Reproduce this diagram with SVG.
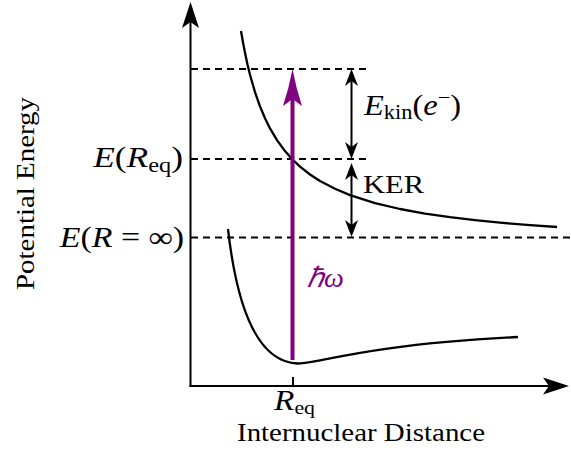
<svg xmlns="http://www.w3.org/2000/svg" width="571" height="450" viewBox="0 0 571 450">
<style>
.ax{stroke:#000;stroke-width:2;fill:none}
.dash{stroke:#000;stroke-width:1.8;stroke-dasharray:7 5;fill:none}
.curve{stroke:#000;stroke-width:2.3;fill:none;stroke-linejoin:round;stroke-linecap:butt}
.dbl{stroke:#000;stroke-width:2;fill:none}
.t{font-family:"Liberation Serif","Times New Roman",serif;font-size:26px;fill:#000}
.m{font-family:"Liberation Serif","Times New Roman",serif;font-size:29px;fill:#000}
.i{font-style:italic}
.s{font-size:20px}
</style>
<defs>
<marker id="axh" markerUnits="userSpaceOnUse" orient="auto" overflow="visible" refX="0" refY="0" markerWidth="1" markerHeight="1">
<path d="M6,0 L-20,-8.5 L-14,0 L-20,8.5 Z" fill="#000"/>
</marker>
<marker id="dh" markerUnits="userSpaceOnUse" orient="auto-start-reverse" overflow="visible" refX="0" refY="0" markerWidth="1" markerHeight="1">
<path d="M8,0 L-9,-6.5 L-4,0 L-9,6.5 Z" fill="#000"/>
</marker>
</defs>

<g id="axes">
<line class="ax" x1="190.5" y1="387" x2="190.5" y2="8" marker-end="url(#axh)"/>
<line class="ax" x1="189.5" y1="386" x2="563" y2="386" marker-end="url(#axh)"/>
<line class="ax" x1="293" y1="377" x2="293" y2="386"/>
</g>

<g id="levels">
<line class="dash" x1="191" y1="69" x2="371" y2="69"/>
<line class="dash" x1="191" y1="159" x2="368" y2="159"/>
<line class="dash" x1="191" y1="237.5" x2="571" y2="237.5"/>
</g>

<g id="upper-curve">
<polyline class="curve" points="241,31 243,42.5 245,52.8 247.5,64.4 250,74.7 255,92.1 260,106.4 265,118.3 270,128.4 277,140.1 285,151.1 292,159 300,166.6 310,174.5 320,181 335,188.8 350,195.1 375,203.1 400,209 425,213.6 450,217.2 475,220.2 500,222.7 530,225.1 557,227"/>
</g>

<g id="lower-curve">
<path class="curve" stroke-width="2" d="M228,229 C236,300 255,362.4 298,363.5 C318,364 360,345 518,337"/>
</g>

<g id="photon">
<line x1="292.5" y1="360" x2="292.5" y2="98" stroke="#800080" stroke-width="4"/>
<path d="M292.5,69 Q296,88 302,106 L292.5,99 L283,106 Q289,88 292.5,69 Z" fill="#800080"/>
<text class="m i" x="307" y="287" style="fill:#800080;font-size:28px">ℏω</text>
</g>

<g id="connectors">
<line class="dbl" x1="351.5" y1="77" x2="351.5" y2="151" marker-start="url(#dh)" marker-end="url(#dh)"/>
<line class="dbl" x1="351.5" y1="171" x2="351.5" y2="229" marker-start="url(#dh)" marker-end="url(#dh)"/>
</g>

<g id="labels">
<text class="m" transform="translate(183,167) scale(1.22,1)" text-anchor="end"><tspan class="i">E</tspan>(<tspan class="i">R</tspan><tspan class="s" dy="5">eq</tspan><tspan dy="-5">)</tspan></text>
<text class="m" transform="translate(184,247) scale(1.17,1)" text-anchor="end"><tspan class="i">E</tspan>(<tspan class="i">R</tspan> = ∞)</text>
<text class="m" transform="translate(364,115) scale(1.12,1)"><tspan class="i">E</tspan><tspan class="s" dy="4">kin</tspan><tspan dy="-4">(</tspan><tspan class="i">e</tspan><tspan class="s" dy="-11">−</tspan><tspan dy="11">)</tspan></text>
<text class="t" x="363" y="193" textLength="61" lengthAdjust="spacingAndGlyphs">KER</text>
<text class="m" transform="translate(274,410) scale(1.15,1)"><tspan class="i">R</tspan><tspan class="s" dy="4" style="font-size:19px">eq</tspan></text>
<text class="t" x="361" y="441" text-anchor="middle" textLength="248" lengthAdjust="spacingAndGlyphs">Internuclear Distance</text>
<text class="t" transform="translate(34,193.5) rotate(-90)" text-anchor="middle" textLength="193" lengthAdjust="spacingAndGlyphs">Potential Energy</text>
</g>
</svg>
